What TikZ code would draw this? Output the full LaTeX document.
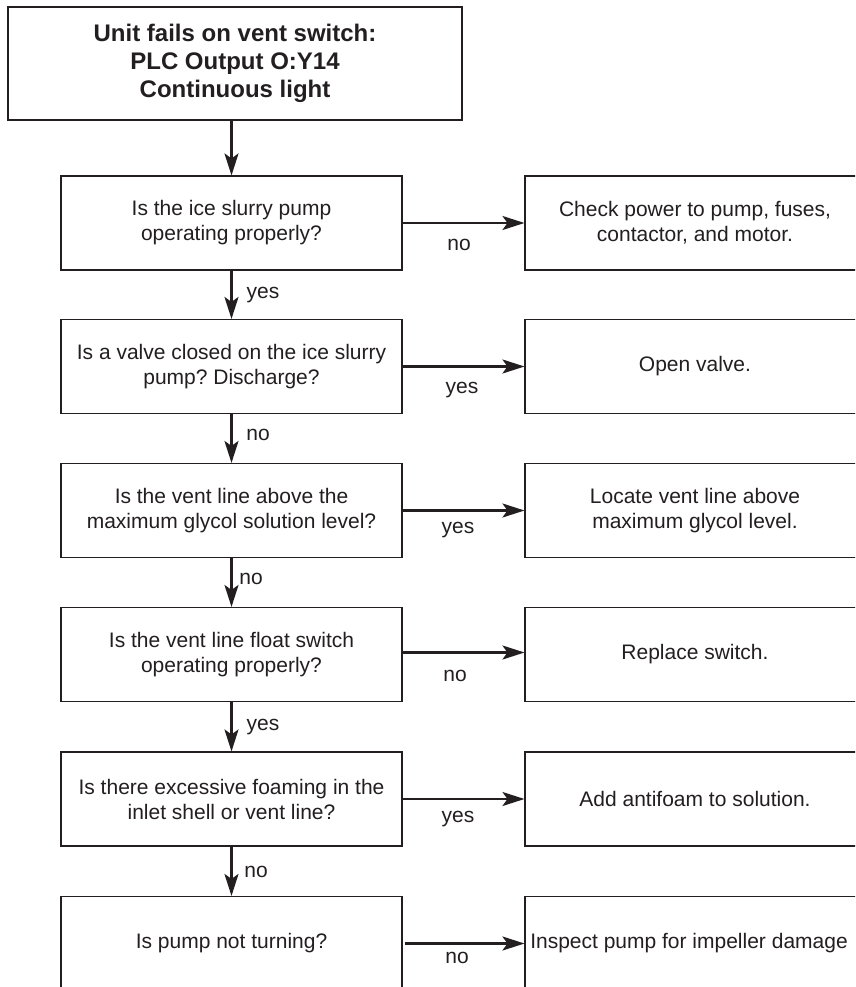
\documentclass[tikz,border=0pt]{standalone}
\usepackage{fontspec}
\setmainfont{Liberation Sans}
\usetikzlibrary{arrows.meta}
\definecolor{ink}{HTML}{231F20}
\frenchspacing
\begin{document}
\begin{tikzpicture}[x=1pt,y=-1pt,
  qbox/.style={draw=ink, line width=1.1pt, minimum width=341pt, minimum height=94pt,
    inner sep=0pt, align=center, font=\fontsize{21}{25}\selectfont, text=ink},
  abox/.style={qbox, minimum width=340pt},
  conn/.style={draw=ink, line width=2.3pt, -{Stealth[length=22pt,width=14pt,inset=5pt]}},
  lab/.style={font=\fontsize{21}{25}\selectfont, text=ink, inner sep=0pt, anchor=base}]
\clip (0,0) rectangle (855,987);
\fill[white] (0,0) rectangle (855,987);
% title
\node[qbox, minimum width=454pt, minimum height=113pt,
  font=\fontsize{24}{28}\selectfont\bfseries] (t) at (235,63.5)
  {Unit fails on vent switch:\\PLC Output O:Y14\\Continuous light};
% question boxes
\node[qbox] (q1) at (231.5,223) {Is the ice slurry pump\\operating properly?};
\node[qbox] (q2) at (231.5,366.5) {Is a valve closed on the ice slurry\\pump? Discharge?};
\node[qbox] (q3) at (231.5,510.5) {Is the vent line above the\\maximum glycol solution level?};
\node[qbox] (q4) at (231.5,654.5) {Is the vent line float switch\\operating properly?};
\node[qbox] (q5) at (231.5,799) {Is there excessive foaming in the\\inlet shell or vent line?};
\node[qbox] (q6) at (231.5,943.5) {Is pump not turning?};
% action boxes
\node[abox] (a1) at (695,223) {Check power to pump, fuses,\\contactor, and motor.};
\node[abox] (a2) at (695,366.5) {Open valve.};
\node[abox] (a3) at (695,510.5) {Locate vent line above\\maximum glycol level.};
\node[abox] (a4) at (695,654.5) {Replace switch.};
\node[abox] (a5) at (695,799) {Add antifoam to solution.};
\node[abox] (a6) at (695,943.5) {\hspace*{-12pt}Inspect pump for impeller damage};
% vertical connectors
\draw[conn] (t.south -| q1.north) -- (q1.north);
\draw[conn] (q1.south) -- (q2.north);
\draw[conn] (q2.south) -- (q3.north);
\draw[conn] (q3.south) -- (q4.north);
\draw[conn] (q4.south) -- (q5.north);
\draw[conn] (q5.south) -- (q6.north);
% horizontal connectors
\draw[conn] (q1.east) -- (a1.west);
\draw[conn] (q2.east) -- (a2.west);
\draw[conn] (q3.east) -- (a3.west);
\draw[conn] ([yshift=2pt]q4.east) -- ([yshift=2pt]a4.west);
\draw[conn] (q5.east) -- (a5.west);
\draw[conn] ([xshift=2pt]q6.east) -- (a6.west);
% labels
\node[lab] (v1) at (263,298) {yes};
\node[lab] (v2) at (258,440.5) {no};
\node[lab] (v3) at (251,584.5) {no};
\node[lab] (v4) at (263,730) {yes};
\node[lab] (v5) at (256,877) {no};
\node[lab] (h1) at (459,250.5) {no};
\node[lab] (h2) at (462,393) {yes};
\node[lab] (h3) at (458,533.5) {yes};
\node[lab] (h4) at (455,681.5) {no};
\node[lab] (h5) at (458,822) {yes};
\node[lab] (h6) at (457,963.8) {no};
\end{tikzpicture}
\end{document}
